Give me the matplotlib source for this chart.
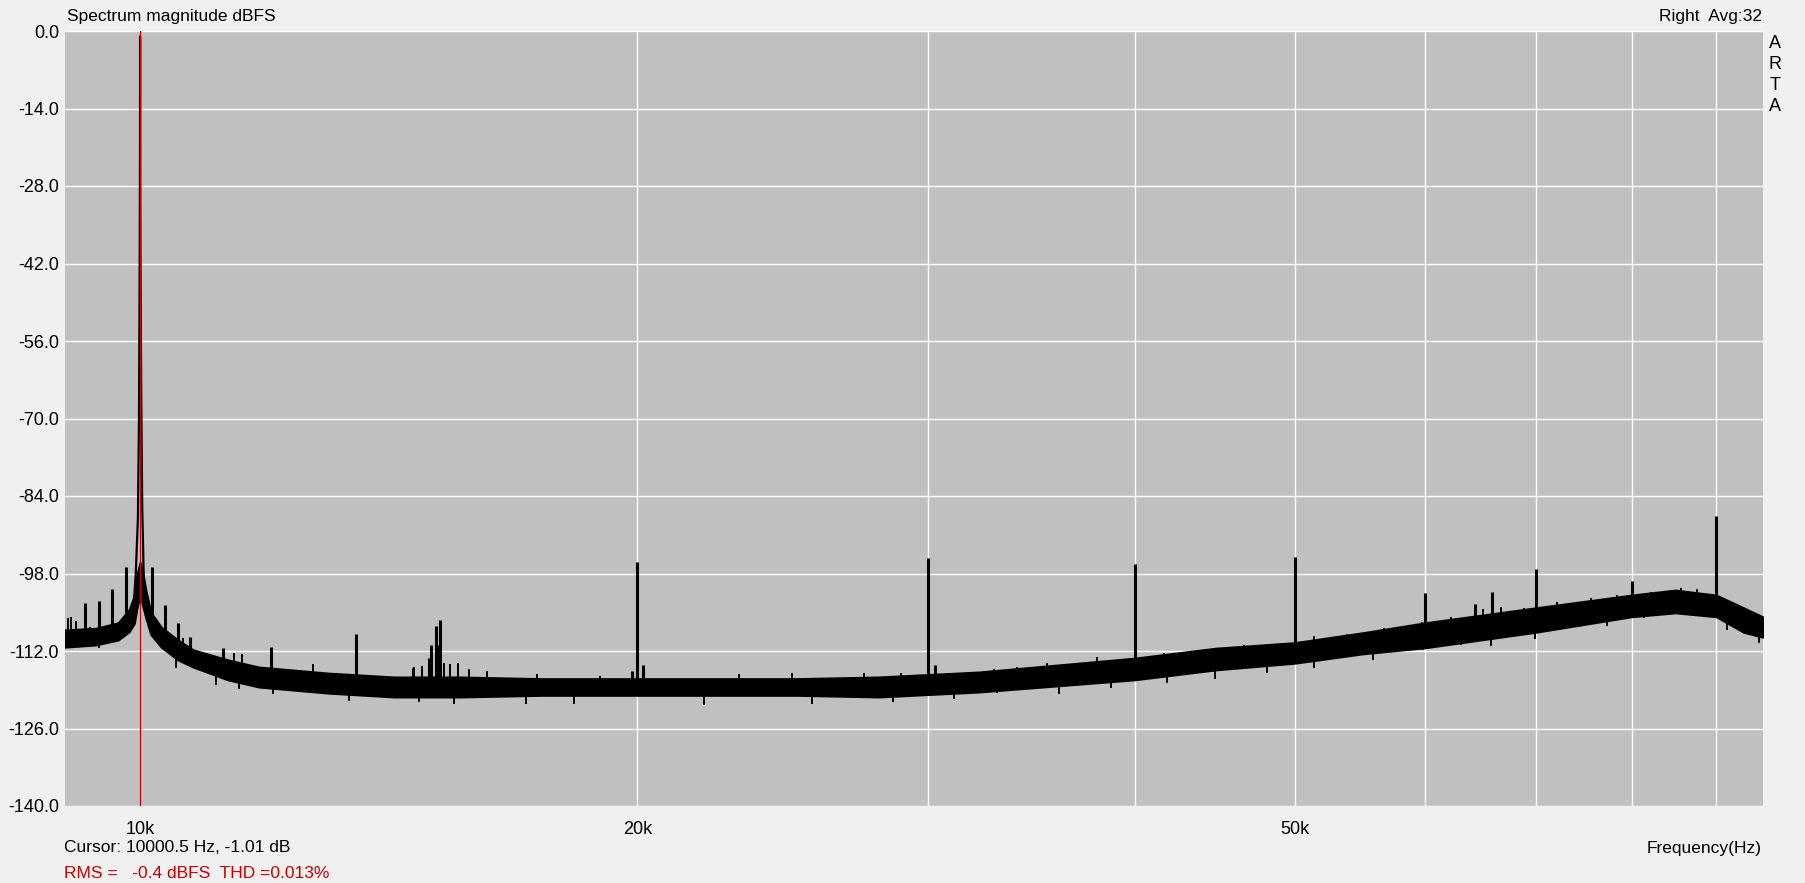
import numpy as np
import matplotlib
matplotlib.use("Agg")
import matplotlib.pyplot as plt

# ---------------------------------------------------------------------------
# Data (frequency in kHz, level in dBFS)
# ---------------------------------------------------------------------------

# noise floor band: lower / upper edge of the dense trace
noise_f = [9.0, 9.4, 9.7, 9.85, 9.92, 9.96, 10.0, 10.04, 10.08, 10.15, 10.3,
           10.54, 10.77, 11.3, 11.8, 13.0, 14.25, 15.6, 17.5, 20.0, 25.0,
           28.0, 32.2, 40.0, 44.8, 50.0, 55.0, 60.0, 70.0, 80.0, 85.0, 90.0,
           93.5, 96.0]
noise_lo = [-111.3, -110.9, -110.0, -108.5, -107.0, -104.0, -102.0, -104.0,
            -106.0, -109.0, -111.3, -113.6, -114.9, -117.2, -118.5, -119.6,
            -120.3, -120.3, -120.0, -120.0, -120.0, -120.3, -119.4, -117.2,
            -115.4, -114.2, -112.5, -111.4, -108.6, -105.8, -105.1, -105.8,
            -108.6, -109.5]
noise_hi = [-108.2, -107.9, -106.9, -104.5, -102.0, -98.0, -96.0, -98.0,
            -101.0, -105.0, -107.7, -110.0, -111.8, -113.6, -114.9, -116.0,
            -116.7, -116.7, -117.0, -117.0, -117.0, -116.7, -115.8, -113.3,
            -111.5, -110.5, -108.7, -106.9, -104.2, -101.9, -101.0, -101.9,
            -104.2, -105.8]

# fundamental at 10 kHz
peak_f = [9.90, 9.94, 9.97, 9.985, 9.995, 9.999, 10.0, 10.001, 10.005,
          10.015, 10.022, 10.03, 10.06, 10.11]
peak_db = [-106.0, -98.0, -88.0, -70.0, -40.0, -22.0, -1.01, -22.0, -40.0,
           -63.7, -75.0, -86.0, -104.0, -106.3]

# harmonics and discrete spurs (top of each line)
spur_f = [9.26, 9.44, 9.62, 9.80, 10.17, 10.35, 10.54, 10.72, 11.23, 12.0,
          13.52, 14.96, 15.0, 15.1, 15.17, 15.2, 19.85, 20.0, 20.15, 30.0,
          30.3, 40.0, 50.0, 60.0, 64.3, 65.8, 70.0, 80.0, 90.0]
spur_db = [-103.3, -103.0, -100.8, -96.8, -96.9, -103.7, -107.0, -109.5,
           -111.5, -111.2, -109.0, -113.3, -110.9, -107.5, -110.9, -106.4,
           -115.6, -95.9, -114.5, -95.2, -114.5, -96.3, -95.0, -101.5,
           -103.5, -101.3, -97.2, -99.3, -87.6]

# small grass on the top edge of the noise band
grass_up_f = [9.04, 9.08, 9.14, 9.33, 9.51, 10.24, 10.43, 10.62, 10.91, 11.07,
              11.40, 11.53, 12.72, 14.62, 14.65, 14.82, 15.28, 15.41, 15.57,
              15.82, 16.23, 17.40, 19.0, 23.05, 24.83, 27.44, 28.87, 31.25,
              32.88, 33.97, 35.42, 36.93, 37.97, 40.35, 41.68, 43.25, 44.78,
              46.6, 48.14, 51.36, 53.81, 56.1, 56.64, 59.68, 62.15, 64.27,
              65.05, 66.64, 68.83, 72.11, 75.54, 78.42, 82.15, 85.63, 87.65,
              92.23, 94.4]
grass_up_db = [-106.1, -105.9, -106.5, -107.6, -107.6, -108.2, -109.1, -109.7,
               -112.4, -112.7, -112.4, -112.5, -114.3, -115.1, -114.8, -114.7,
               -114.2, -114.3, -114.2, -115.3, -115.7, -116.2, -116.5, -116.2,
               -116.0, -116.0, -115.9, -115.9, -115.3, -114.8, -114.2, -114.1,
               -113.1, -113.3, -112.4, -112.1, -111.4, -110.9, -110.7, -109.3,
               -108.9, -108.2, -107.9, -106.7, -105.8, -104.1, -104.5, -104.1,
               -104.3, -103.1, -102.5, -101.9, -101.3, -100.7, -100.8, -103.5,
               -104.9]

# dips below the bottom edge
grass_dn_f = [9.0, 9.44, 10.51, 11.11, 11.48, 12.03, 13.38, 14.75, 15.49,
              17.12, 18.31, 21.95, 25.53, 28.28, 28.55, 31.08, 33.04, 36.0,
              38.69, 41.87, 44.78, 48.14, 51.36, 55.80, 59.84, 63.03, 65.71,
              69.87, 73.11, 77.30, 81.37, 91.4, 95.5]
grass_dn_db = [-111.5, -111.4, -115.1, -118.1, -118.9, -119.8, -121.1, -121.3,
               -121.6, -121.6, -121.6, -121.8, -121.5, -120.5, -121.3, -120.7,
               -119.6, -119.8, -118.7, -117.7, -117.1, -116.0, -115.1, -113.6,
               -111.9, -110.9, -111.1, -109.8, -107.6, -107.5, -106.1, -108.2,
               -110.6]

cursor_f = 10.0005

x_ticks = [10, 20, 50]
x_ticklabels = ["10k", "20k", "50k"]
x_grid = [10, 20, 30, 40, 50, 60, 70, 80, 90]
y_ticks = np.arange(0, -141, -14)

# ---------------------------------------------------------------------------
# Figure
# ---------------------------------------------------------------------------
plt.rcParams["font.family"] = ["Liberation Sans", "DejaVu Sans"]

W, H = 1805, 883
fig = plt.figure(figsize=(W / 100, H / 100), dpi=100, facecolor="#f0f0f0")
ax = fig.add_axes([64.5 / W, 77 / H, 1698 / W, 775 / H])
ax.set_facecolor("#c0c0c0")

ax.set_xscale("log")
ax.set_xlim(9.0, 96.0)
ax.set_ylim(-140, 0)

for g in x_grid:
    ax.axvline(g, color="white", lw=1.0, zorder=1)
for g in y_ticks:
    ax.axhline(g, color="white", lw=1.0, zorder=1)

nf = np.array(noise_f)
ax.fill_between(nf, noise_lo, noise_hi, color="black", lw=1.5,
                edgecolor="black", zorder=3)

base_hi = np.interp(grass_up_f, nf, noise_hi)
ax.vlines(grass_up_f, base_hi, grass_up_db, color="black", lw=1.4, zorder=3)
base_lo = np.interp(grass_dn_f, nf, noise_lo)
ax.vlines(grass_dn_f, grass_dn_db, base_lo, color="black", lw=1.4, zorder=3)

base_sp = np.interp(spur_f, nf, noise_lo)
ax.vlines(spur_f, base_sp, spur_db, color="black", lw=2.2, zorder=4)

ax.plot(peak_f, peak_db, color="black", lw=1.6, zorder=4)
ax.axvline(cursor_f, color="#d00000", lw=1.0, zorder=5)

ax.set_xticks(x_ticks)
ax.set_xticklabels(x_ticklabels)
ax.xaxis.set_minor_locator(matplotlib.ticker.NullLocator())
ax.set_yticks(y_ticks)
ax.set_yticklabels([f"{v:.1f}" for v in y_ticks])
ax.tick_params(axis="both", length=0, labelsize=13, colors="black")
ax.tick_params(axis="x", pad=11)
ax.tick_params(axis="y", pad=4)
for s in ax.spines.values():
    s.set_visible(False)

fig.text(67 / W, 1 - 16 / H, "Spectrum magnitude dBFS", fontsize=12.5,
         va="center", ha="left")
fig.text(1762 / W, 1 - 16 / H, "Right  Avg:32", fontsize=12.5,
         va="center", ha="right")
for i, ch in enumerate("ARTA"):
    fig.text(1775 / W, 1 - (44 + i * 20.7) / H, ch, fontsize=13,
             va="center", ha="center")
fig.text(64 / W, 1 - 848 / H, "Cursor: 10000.5 Hz, -1.01 dB", fontsize=12.5,
         va="center", ha="left")
fig.text(64 / W, 1 - 873 / H, "RMS =   -0.4 dBFS  THD =0.013%", fontsize=12.5,
         va="center", ha="left", color="#c80000")
fig.text(1762 / W, 1 - 848 / H, "Frequency(Hz)", fontsize=12.5,
         va="center", ha="right")

fig.savefig("out.png", dpi=100, facecolor=fig.get_facecolor())
